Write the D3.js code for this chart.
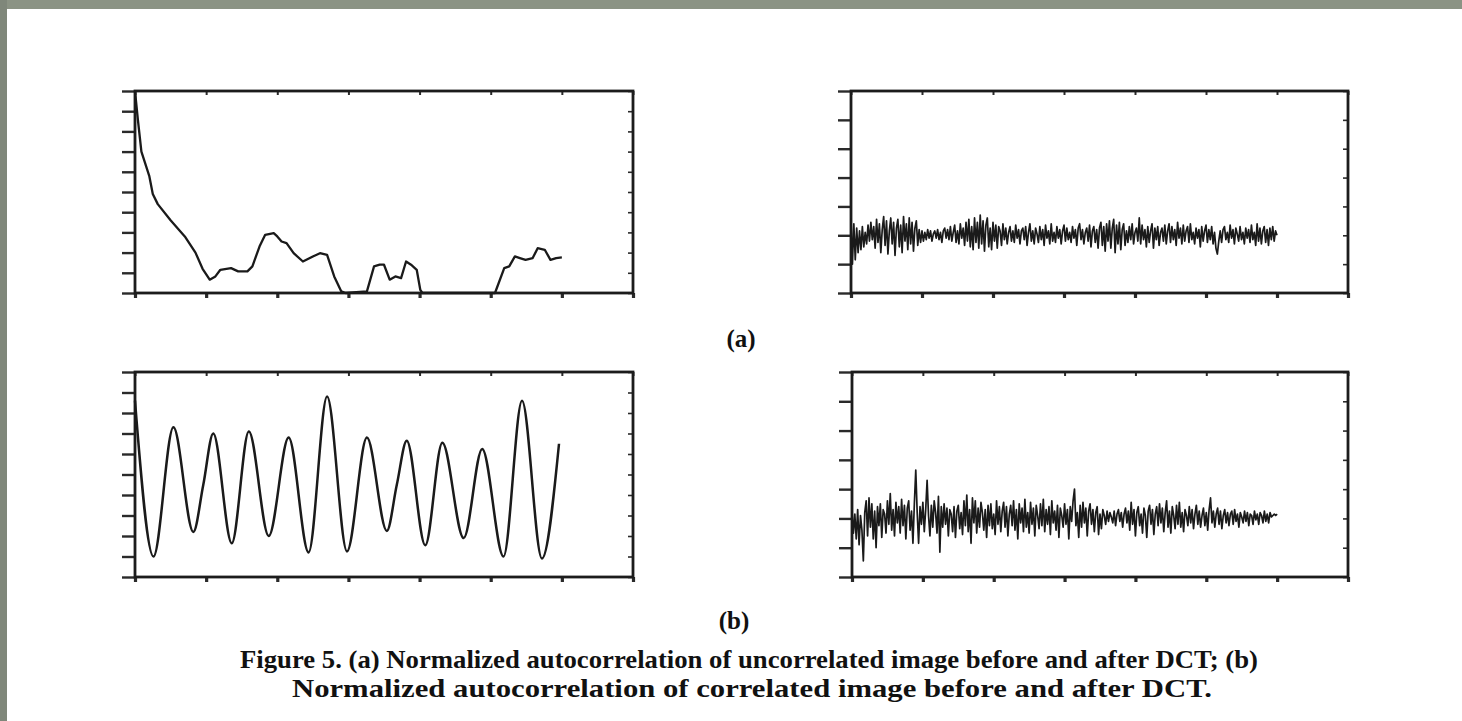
<!DOCTYPE html>
<html><head><meta charset="utf-8">
<script src="https://cdn.jsdelivr.net/npm/d3@7"></script>
<style>
html,body{margin:0;padding:0;background:#fff;overflow:hidden}
svg{display:block}
</style></head><body>
<svg id="fig" width="1462" height="721"></svg>
<script>
// ---- data ----
// (a) left: autocorrelation of uncorrelated image before DCT
const lagA = [0,2,4.5,10,12.5,16,25,35,42.5,47.5,52.5,56.5,60,67.5,72.5,79,82.5,87.5,91.5,97.5,100,103,106.5,111.5,118,125,130,135,140,145,148,163,168,172,175,179,183,187,190.5,194,198,200.5,202,253,259.5,263,267,270.5,274.5,279.5,283,288,292,296,300];
const valA = [1.0,0.86,0.70,0.58,0.49,0.44,0.36,0.28,0.20,0.12,0.066,0.082,0.115,0.123,0.107,0.107,0.132,0.23,0.288,0.296,0.28,0.255,0.247,0.197,0.156,0.181,0.197,0.189,0.082,0.008,0,0.008,0.132,0.14,0.14,0.066,0.082,0.074,0.156,0.14,0.115,0.016,0,0,0.123,0.132,0.181,0.173,0.164,0.173,0.222,0.214,0.164,0.173,0.176];

// (b) left: autocorrelation of correlated image before DCT (extrema and shoulders)
const lagB = [0,13,27,41,48,55,68,80,94,108,122,135,149,163,177,184,191,204,216,231,244,259,272,286,298];
const valB = [0.86,0.10,0.73,0.22,0.45,0.70,0.165,0.71,0.20,0.68,0.12,0.88,0.125,0.68,0.225,0.45,0.665,0.155,0.655,0.19,0.625,0.10,0.86,0.09,0.65];

// (a) right: after DCT, one value per lag 0..300, values x100
const noiseA = [12,-20,8,-17,5,-12,3,-10,6,-8,2,-6,7,-4,9,-3,6,-9,11,-5,8,-12,4,13,-7,10,-13,3,12,-6,
9,-14,5,11,-8,7,-12,13,-4,8,-10,12,-6,9,-11,5,10,-7,4,-5,3,-4,2,-3,4,-2,3,-4,1,3,
-2,4,-3,2,-5,3,5,-2,4,-3,6,-4,2,7,-5,3,-6,8,-2,5,-7,9,-4,11,-8,6,-10,12,-5,9,
-9,14,-6,10,-11,7,12,-8,5,-10,9,-4,7,-9,6,3,-7,8,-3,5,-6,2,6,-4,3,-5,7,-2,4,-6,
3,5,-3,6,-7,2,8,-4,3,-6,5,1,-5,6,-3,4,-7,7,-2,3,-6,8,-4,2,-5,6,-2,4,-6,3,
7,-4,5,-3,2,-5,6,-2,4,-7,5,8,-3,4,-6,2,5,-4,7,-8,3,6,-5,4,-9,5,9,-7,6,-11,
8,-4,10,-9,5,11,-12,7,-6,9,-10,4,8,-7,3,-5,6,-3,8,-6,2,5,-4,12,-6,7,-3,4,-8,6,
-5,3,8,-9,5,-3,6,-7,2,5,-4,7,-6,3,8,-5,6,-3,4,-7,9,-2,5,-6,7,-4,3,6,-5,8,
-3,2,-6,5,-2,4,-8,6,-4,3,7,-5,4,-3,6,-6,2,-9,-13,-4,3,-5,4,6,-3,2,-5,7,-2,4,
-6,5,1,-4,6,-3,2,-6,5,-2,4,-5,7,-3,2,-7,8,-4,5,-6,3,6,-5,4,-7,5,-3,6,-4,3,0];

// (b) right: after DCT, one value per lag 0..300, values x100
const noiseB = [5,-10,3,-14,6,-18,2,-8,-29,4,12,-12,14,-6,10,-14,5,-20,8,-5,10,-13,6,3,-10,12,-4,17,-8,6,
-12,11,-3,8,-10,13,-5,9,-14,7,12,-8,5,-17,10,33,4,-17,8,-4,11,-9,6,26,2,-12,9,-6,12,4,
-10,15,-23,8,-6,10,-4,7,-12,6,3,-9,8,-13,5,9,-7,4,-11,12,-5,16,-9,6,-17,14,-3,12,-10,7,
-6,11,4,-8,6,-13,9,-5,10,-7,3,-11,12,-4,8,-9,5,11,-6,8,-12,3,9,-5,12,-8,6,-14,10,-3,
7,-9,13,-6,4,-10,11,-4,7,-12,9,2,-7,10,-5,13,-9,6,-4,8,-11,12,-3,5,-8,9,-13,7,2,-6,
10,-4,6,-14,8,-2,12,20,-5,4,-13,9,-6,11,-3,7,-12,5,10,-4,6,-9,4,8,-11,3,-7,6,2,-4,
5,-2,4,1,-3,5,-5,3,6,-2,4,-6,3,7,-3,5,-8,11,-4,6,-12,4,8,-5,3,-10,7,2,-13,5,
9,-4,6,-11,3,8,-5,10,-3,7,-9,4,12,-6,5,-10,8,2,-7,9,-4,11,-6,4,-9,6,2,-5,8,-3,
6,-7,3,9,-4,5,-6,2,7,-5,4,-8,6,14,-3,5,-6,3,7,-4,5,-7,2,6,-3,4,-5,3,5,-4,
6,-2,3,-6,4,1,-3,5,-2,4,-5,3,2,-4,5,-1,3,-4,4,2,-3,5,-2,3,-3,4,1,2,3,2,3];

const xTicks = [0,50,100,150,200,250,300,350];
const yTicksLeft = [0,0.1,0.2,0.3,0.4,0.5,0.6,0.7,0.8,0.9,1.0];
const yTicksRight = [-0.4,-0.2,0,0.2,0.4,0.6,0.8,1.0];

const panelLabels = ['(a)', '(b)'];
const captionLines = [
  'Figure 5. (a) Normalized autocorrelation of uncorrelated image before and after DCT; (b)',
  'Normalized autocorrelation of correlated image before and after DCT.'
];

// ---- drawing ----
const svg = d3.select('#fig');
svg.append('rect').attr('width', 1462).attr('height', 721).attr('fill', '#fff');
// slide frame (grey-green strip on top and left)
svg.append('rect').attr('x', 0).attr('y', 0).attr('width', 1462).attr('height', 9).attr('fill', '#8b9384');
svg.append('rect').attr('x', 0).attr('y', 0).attr('width', 7).attr('height', 721).attr('fill', '#7f877a');

const panels = [
  {x0: 135, x1: 633, y0: 91,  y1: 293, yd: [0, 1],     yt: yTicksLeft,  lags: lagA, vals: valA, curve: d3.curveLinear, w: 2.3},
  {x0: 851, x1: 1348, y0: 91, y1: 293, yd: [-0.4, 1],  yt: yTicksRight, lags: d3.range(noiseA.length), vals: noiseA.map(v => v / 100), curve: d3.curveLinear, w: 1.7},
  {x0: 135, x1: 633, y0: 372, y1: 577, yd: [0, 1],     yt: yTicksLeft,  lags: lagB, vals: valB, curve: d3.curveMonotoneX, w: 2.5},
  {x0: 852, x1: 1348, y0: 372, y1: 577, yd: [-0.4, 1], yt: yTicksRight, lags: d3.range(noiseB.length), vals: noiseB.map(v => v / 100), curve: d3.curveLinear, w: 1.7}
];

panels.forEach(p => {
  const x = d3.scaleLinear().domain([0, 350]).range([p.x0, p.x1]);
  const y = d3.scaleLinear().domain(p.yd).range([p.y1, p.y0]);
  const g = svg.append('g');

  const ax = (axis, tx, ty, sw) => {
    const a = g.append('g').attr('transform', `translate(${tx},${ty})`).call(axis);
    a.select('.domain').remove();
    a.selectAll('line').attr('stroke', '#2a2a2a').attr('stroke-width', sw);
  };
  ax(d3.axisBottom(x).tickValues(xTicks).tickSize(5).tickFormat(''), 0, p.y1, 3.2);
  ax(d3.axisTop(x).tickValues(xTicks).tickSize(-4).tickFormat(''), 0, p.y0, 2);
  ax(d3.axisLeft(y).tickValues(p.yt).tickSize(13).tickFormat(''), p.x0, 0, 2.4);
  ax(d3.axisRight(y).tickValues(p.yt).tickSize(-5).tickFormat(''), p.x1, 0, 1.6);

  g.append('rect').attr('x', p.x0).attr('y', p.y0)
    .attr('width', p.x1 - p.x0).attr('height', p.y1 - p.y0)
    .attr('fill', 'none').attr('stroke', '#1c1c1c').attr('stroke-width', 2.8);

  const line = d3.line().x((d, i) => x(p.lags[i])).y(d => y(d)).curve(p.curve);
  g.append('path').datum(p.vals).attr('d', line)
    .attr('fill', 'none').attr('stroke', '#1a1a1a').attr('stroke-width', p.w)
    .attr('stroke-linejoin', 'round');
});

const serif = '"Liberation Serif","DejaVu Serif",serif';
svg.append('text').attr('x', 741).attr('y', 347).attr('text-anchor', 'middle')
  .attr('font-family', serif).attr('font-weight', 'bold').attr('font-size', 25).attr('fill', '#111')
  .text(panelLabels[0]);
svg.append('text').attr('x', 734).attr('y', 629).attr('text-anchor', 'middle')
  .attr('font-family', serif).attr('font-weight', 'bold').attr('font-size', 25).attr('fill', '#111')
  .text(panelLabels[1]);

svg.append('text').attr('x', 240).attr('y', 668)
  .attr('font-family', serif).attr('font-weight', 'bold').attr('font-size', 25).attr('fill', '#111')
  .attr('textLength', 1018).attr('lengthAdjust', 'spacingAndGlyphs')
  .text(captionLines[0]);
svg.append('text').attr('x', 292).attr('y', 697)
  .attr('font-family', serif).attr('font-weight', 'bold').attr('font-size', 25).attr('fill', '#111')
  .attr('textLength', 920).attr('lengthAdjust', 'spacingAndGlyphs')
  .text(captionLines[1]);
</script>
</body></html>
